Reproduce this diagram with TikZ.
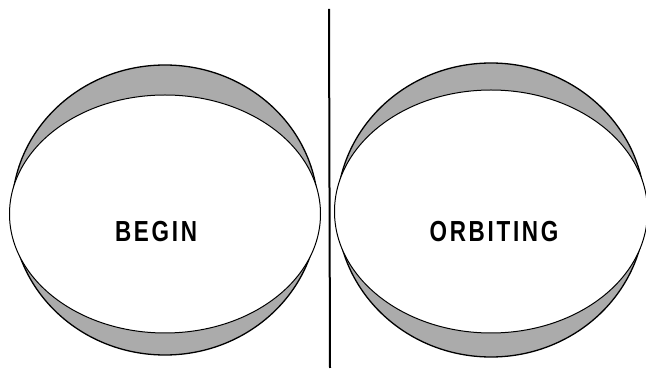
\documentclass[tikz,border=0pt]{standalone}
\usepackage{fontspec}
\setmainfont{Liberation Sans}
\newfontfamily\lblfont[LetterSpace=12]{Liberation Sans}
\usetikzlibrary{shapes.geometric}
\begin{document}
\begin{tikzpicture}[x=1pt,y=-1pt,
  outerell/.style={ellipse, draw=black, line width=1.3pt, fill=black!33, inner sep=0pt},
  innerell/.style={ellipse, draw=black, line width=1pt, fill=white, inner sep=0pt},
  lbl/.style={inner sep=0pt, font=\lblfont\bfseries\fontsize{29}{29}\selectfont}]
\useasboundingbox (0,0) rectangle (646,371);
% left
\node[outerell, minimum width=306pt, minimum height=290pt] (lo) at (165,210) {};
\node[innerell, minimum width=311pt, minimum height=238pt] (li) at (165,214) {};
\node[lbl] (begin) at (156,232) {\scalebox{0.775}[1]{BEGIN}};
% right
\node[outerell, minimum width=308pt, minimum height=294pt] (ro) at (491,210) {};
\node[innerell, minimum width=313pt, minimum height=243pt] (ri) at (491,211.5) {};
\node[lbl] (orbit) at (494,232) {\scalebox{0.775}[1]{ORBITING}};
% divider
\coordinate (dtop) at (329,9);
\coordinate (dbot) at (330,368);
\draw[line width=2pt] (dtop) -- (dbot);
\end{tikzpicture}
\end{document}
